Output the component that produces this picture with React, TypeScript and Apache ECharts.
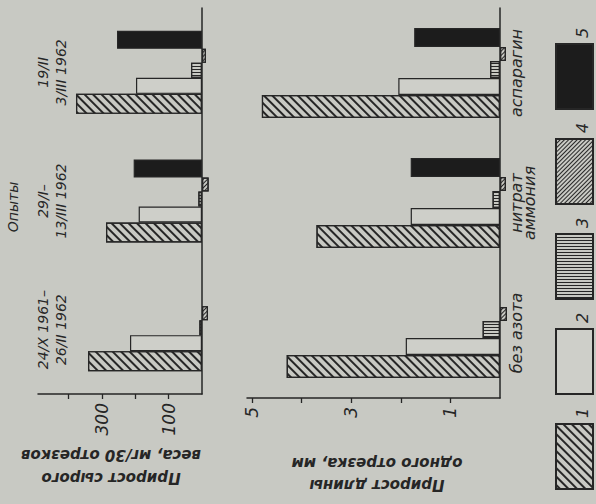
import React, { useEffect, useRef } from 'react';
import * as echarts from 'echarts';

// ---- data ----
const experimentLabels = ['24/X 1961–\n26/II 1962', '29/I–\n13/III 1962', '19/II\n3/III 1962'];
const treatmentLabels = ['без азота', 'нитрат\nаммония', 'аспарагин'];
const seriesNames = ['1', '2', '3', '4', '5'];

const weight1 = [342, 288, 378];
const weight2 = [216, 190, 198];
const weight3 = [8, 11, 33];
const weight4 = [-18, -20, -12];
const weight5: (number | null)[] = [null, 205, 255];

const length1 = [4.3, 3.7, 4.8];
const length2 = [1.9, 1.8, 2.05];
const length3 = [0.35, 0.15, 0.2];
const length4 = [-0.14, -0.12, -0.12];
const length5: (number | null)[] = [null, 1.8, 1.73];

const weightTicks = [100, 200, 300, 400];
const weightTickLabels = [100, 300];
const lengthTicks = [1, 2, 3, 4, 5];
const lengthTickLabels = [1, 3, 5];

const weightTitle = 'Прирост сырого\nвеса, мг/30 отрезков';
const lengthTitle = 'Прирост длины\nодного отрезка, мм';
const experimentsTitle = 'Опыты';
const legendOrder = ['5', '4', '3', '2', '1'];

// ---- styles ----
const BG = '#c8c9c3';
const INK = '#262626';
const FONT = "'DejaVu Sans', sans-serif";

const decalBase = { symbol: 'rect', symbolSize: 1, color: INK, backgroundColor: BG, dashArrayX: [1, 0] };
const seriesStyles: any[] = [
  { color: BG, decal: { ...decalBase, dashArrayY: [2, 4], rotation: Math.PI / 4 } },
  { color: '#cecfc9' },
  { color: BG, decal: { ...decalBase, dashArrayY: [1, 2], rotation: 0 } },
  { color: BG, decal: { ...decalBase, dashArrayY: [1, 2], rotation: -Math.PI / 4 } },
  { color: '#1c1c1c' },
];
const topWidths = [20, 16, 15, 14, 18];
const bottomWidths = [23, 17, 17, 14, 19];

const weightData = [weight1, weight2, weight3, weight4, weight5];
const lengthData = [length1, length2, length3, length4, length5];

const textBase = { color: INK, fontFamily: FONT, fontStyle: 'italic' };

function buildOption() {
  const series: any[] = [];
  const order = [4, 3, 2, 1, 0];
  order.forEach((i) => {
    series.push({
      name: seriesNames[i],
      type: 'bar',
      xAxisIndex: 0,
      yAxisIndex: 0,
      data: weightData[i],
      barWidth: topWidths[i],
      barGap: '0%',
      clip: false,
      itemStyle: { ...seriesStyles[i], borderColor: INK, borderWidth: 1.2 },
    });
  });
  order.forEach((i) => {
    series.push({
      name: seriesNames[i],
      type: 'bar',
      xAxisIndex: 1,
      yAxisIndex: 1,
      data: lengthData[i],
      barWidth: bottomWidths[i],
      barGap: '0%',
      clip: false,
      itemStyle: { ...seriesStyles[i], borderColor: INK, borderWidth: 1.2 },
    });
  });

  const valueAxisCommon = {
    type: 'value',
    inverse: true,
    min: 0,
    splitLine: { show: false },
    axisLine: { show: true, lineStyle: { color: INK, width: 1.5 } },
  };

  const titleFont = `italic bold 15px ${FONT}`;

  return {
    animation: false,
    backgroundColor: BG,
    grid: [
      { left: 38, right: 394, top: 8, bottom: 110 },
      { left: 247, right: 96, top: 8, bottom: 106 },
    ],
    xAxis: [
      {
        ...valueAxisCommon,
        gridIndex: 0,
        max: 492,
        axisTick: { show: true, customValues: weightTicks, length: 5, lineStyle: { color: INK, width: 1.3 } },
        axisLabel: { ...textBase, customValues: weightTickLabels, rotate: 90, margin: 9, fontSize: 17 },
      },
      {
        ...valueAxisCommon,
        gridIndex: 1,
        max: 5.1,
        axisTick: { show: true, customValues: lengthTicks, length: 5, lineStyle: { color: INK, width: 1.3 } },
        axisLabel: { ...textBase, customValues: lengthTickLabels, rotate: 90, margin: 9, fontSize: 17 },
      },
    ],
    yAxis: [
      {
        type: 'category',
        gridIndex: 0,
        position: 'right',
        data: experimentLabels,
        axisLine: { show: true, lineStyle: { color: INK, width: 1.5 } },
        axisTick: { show: false },
        axisLabel: { ...textBase, inside: true, rotate: 90, margin: 132, fontSize: 14, lineHeight: 18 },
      },
      {
        type: 'category',
        gridIndex: 1,
        position: 'right',
        data: treatmentLabels,
        axisLine: { show: true, lineStyle: { color: INK, width: 1.5 } },
        axisTick: { show: false },
        axisLabel: { ...textBase, rotate: 90, margin: 10, fontSize: 16, lineHeight: 13 },
      },
    ],
    legend: {
      orient: 'vertical',
      left: 555,
      top: 43,
      padding: 0,
      icon: 'rect',
      itemWidth: 37,
      itemHeight: 65,
      itemGap: 28,
      data: legendOrder,
      formatter: () => '',
      textStyle: { fontSize: 1 },
      selectedMode: false,
    },
    graphic: [
      { type: 'text', x: 111, y: 466, rotation: Math.PI, style: { text: weightTitle, fill: INK, font: titleFont, align: 'center', verticalAlign: 'middle', lineHeight: 23 } },
      { type: 'text', x: 377, y: 474, rotation: Math.PI, style: { text: lengthTitle, fill: INK, font: titleFont, align: 'center', verticalAlign: 'middle', lineHeight: 22 } },
      { type: 'text', x: 13, y: 207, rotation: Math.PI / 2, style: { text: experimentsTitle, fill: INK, font: `italic 14px ${FONT}`, align: 'center', verticalAlign: 'middle' } },
      ...legendOrder.map((t) => ({
        type: 'text',
        x: 582,
        y: 33 + legendOrder.indexOf(t) * 95,
        rotation: Math.PI / 2,
        style: { text: t, fill: INK, font: `italic 16px ${FONT}`, align: 'center', verticalAlign: 'middle' },
      })),
    ],
    series,
  };
}

export default function App() {
  const ref = useRef<HTMLDivElement>(null);
  useEffect(() => {
    if (!ref.current) return;
    const chart = echarts.init(ref.current, null, { renderer: 'svg' });
    chart.setOption(buildOption() as any);
    return () => chart.dispose();
  }, []);
  return (
    <div
      ref={ref}
      style={{ position: 'absolute', left: 0, top: 0, width: 596, height: 504, background: BG }}
    />
  );
}
